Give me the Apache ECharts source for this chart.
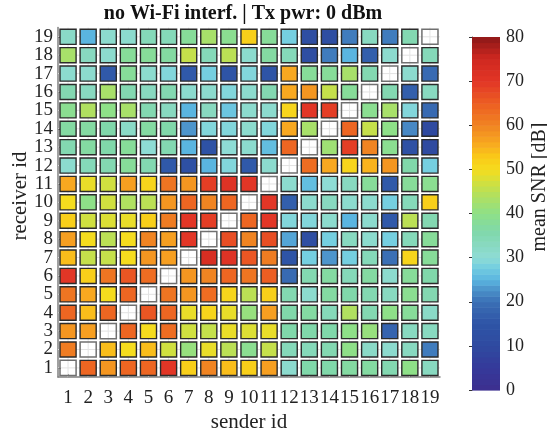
<!DOCTYPE html>
<html>
<head>
<meta charset="utf-8">
<script src="https://cdn.jsdelivr.net/npm/echarts@6/dist/echarts.min.js"></script>
<style>html,body{margin:0;padding:0;background:#fff;}#c{width:547px;height:438px;}</style>
</head>
<body>
<div id="c"></div>
<script>
// sender ids (x) and receiver ids (y)
const senders = ['1','2','3','4','5','6','7','8','9','10','11','12','13','14','15','16','17','18','19'];
const receivers = ['1','2','3','4','5','6','7','8','9','10','11','12','13','14','15','16','17','18','19'];
// mean SNR [dB] per receiver row, columns = sender 1..19 (null = diagonal, no data)
const rx1  = [null,64,58,64,64,70,52,60,54,52,57,31,36,36,37,37,35,40,33];
const rx2  = [61,null,54,50,54,47,41,49,45,39,46,34,34,35,40,32,31,33,21];
const rx3  = [58,57,null,64,50,63,47,46,49,48,49,36,36,36,40,41,18,33,33];
const rx4  = [64,54,64,null,66,64,49,51,49,41,57,36,37,34,44,35,40,38,32];
const rx5  = [62,56,50,64,null,62,58,63,51,45,52,35,31,37,36,35,33,39,35];
const rx6  = [70,52,62,66,63,null,58,60,64,62,65,19,35,37,34,37,31,38,36];
const rx7  = [54,46,46,50,58,57,null,73,71,66,61,15,28,23,28,34,20,51,38];
const rx8  = [57,50,45,50,60,57,70,null,67,60,67,24,12,28,33,31,28,34,38];
const rx9  = [52,47,48,49,52,61,70,69,null,64,70,29,29,31,25,31,16,45,35];
const rx10 = [50,40,47,44,45,58,64,60,64,null,70,17,31,33,31,31,28,34,52];
const rx11 = [56,49,47,57,51,62,58,69,71,70,null,31,26,30,33,38,16,38,39];
const rx12 = [31,34,35,38,35,16,13,25,29,16,31,null,63,56,51,55,58,36,28];
const rx13 = [35,37,36,38,30,35,25,14,30,31,26,64,null,42,69,60,39,13,10];
const rx14 = [37,37,36,32,37,36,23,29,29,31,29,56,43,null,64,46,40,22,10];
const rx15 = [39,44,40,43,35,33,25,33,27,31,31,51,70,69,null,39,43,29,19];
const rx16 = [35,33,43,35,33,35,31,31,29,31,35,56,58,46,38,null,35,17,33];
const rx17 = [31,31,16,38,31,29,16,28,15,29,15,56,38,38,43,35,null,31,19];
const rx18 = [43,33,31,38,38,37,46,34,45,31,37,34,12,21,25,17,31,null,34];
const rx19 = [32,25,31,31,34,34,38,43,39,52,38,28,12,12,21,33,21,35,null];
// colorbar ticks
const cbMin = 0, cbMax = 80, cbStep = 10;
const colormap = ['#3d2f8f','#35399a','#2f4aa0','#2e54a6','#3a6fb5','#4d95cc','#5ab5e0','#75cfe0','#8edcd5','#88d9c0','#80d8aa','#8ee088','#b0e060','#d0e040','#f5dc1e','#fac818','#f8a820','#f08422','#ec5e22','#e23626','#d02820','#8c1818'];
const colorStops = [0,5,10,15,20,23,25,28,30,33,36,40,44,47,50,53,56,60,65,70,75,80];

const rows = [rx1,rx2,rx3,rx4,rx5,rx6,rx7,rx8,rx9,rx10,rx11,rx12,rx13,rx14,rx15,rx16,rx17,rx18,rx19];
const cells = [];
rows.forEach((row, r) => row.forEach((v, c) => cells.push([c, r, v == null ? '-' : v])));

function hex2rgb(h){return [parseInt(h.slice(1,3),16),parseInt(h.slice(3,5),16),parseInt(h.slice(5,7),16)];}
function colorOf(v){
  if (v <= colorStops[0]) return colormap[0];
  for (let i = 1; i < colorStops.length; i++) {
    if (v <= colorStops[i]) {
      const t = (v - colorStops[i-1])/(colorStops[i]-colorStops[i-1]);
      const a = hex2rgb(colormap[i-1]), b = hex2rgb(colormap[i]);
      return 'rgb(' + a.map((x,k)=>Math.round(x+(b[k]-x)*t)).join(',') + ')';
    }
  }
  return colormap[colormap.length-1];
}
// colorbar levels (64 discrete steps like the reference)
const nLev = 64;
const cbLevels = [];
for (let i = 0; i < nLev; i++) cbLevels.push([0, cbMin + i*(cbMax-cbMin)/nLev, cbMin + (i+1)*(cbMax-cbMin)/nLev]);

const serif = 'Liberation Serif, Times New Roman, serif';
const chart = echarts.init(document.getElementById('c'), null, {renderer:'canvas'});
chart.setOption({
  animation: false,
  backgroundColor: '#fff',
  title: {
    text: 'no Wi-Fi interf. | Tx pwr: 0 dBm',
    left: 238, top: -1, textAlign: 'center',
    textStyle: {fontFamily: serif, fontWeight: 'bold', fontSize: 20, color: '#111'}
  },
  graphic: [
    {type: 'text', x: 20, y: 196, rotation: Math.PI/2,
     style: {text: 'receiver id', font: '21px ' + serif, fill: '#222', align: 'center', verticalAlign: 'middle', textAlign: 'center', textVerticalAlign: 'middle'}},
    {type: 'text', x: 540, y: 187, rotation: Math.PI/2,
     style: {text: 'mean SNR [dB]', font: '20px ' + serif, fill: '#222', align: 'center', verticalAlign: 'middle', textAlign: 'center', textVerticalAlign: 'middle'}}
  ],
  grid: [
    {left: 58, top: 27.6, width: 382, height: 355.8},
    {left: 472, top: 37, width: 28, height: 353}
  ],
  xAxis: [
    {type: 'category', data: senders, gridIndex: 0,
     name: 'sender id', nameLocation: 'middle', nameGap: 32,
     nameTextStyle: {fontFamily: serif, fontSize: 21, color: '#222'},
     axisLine: {show: true, lineStyle: {color: '#808080', width: 1.5}},
     axisTick: {show: true, alignWithLabel: true, inside: true, length: 3, lineStyle: {color: '#555'}},
     axisLabel: {fontFamily: serif, fontSize: 19, color: '#222', margin: 11, interval: 0},
     splitLine: {show: false}},
    {type: 'value', gridIndex: 1, min: 0, max: 1, show: false}
  ],
  yAxis: [
    {type: 'category', data: receivers, gridIndex: 0,
     axisLine: {show: true, lineStyle: {color: '#808080', width: 1.5}},
     axisTick: {show: true, alignWithLabel: true, inside: true, length: 3, lineStyle: {color: '#555'}},
     axisLabel: {fontFamily: serif, fontSize: 19, color: '#222', margin: 5, interval: 0},
     splitLine: {show: false}},
    {type: 'value', gridIndex: 1, position: 'right', min: cbMin, max: cbMax, interval: cbStep,
     axisLine: {show: true, lineStyle: {color: '#555', width: 1}},
     axisTick: {show: true, inside: true, length: 3, lineStyle: {color: '#333'}},
     axisLabel: {fontFamily: serif, fontSize: 18, color: '#222', margin: 6},
     splitLine: {show: false}}
  ],
  series: [
    {
      type: 'custom', xAxisIndex: 0, yAxisIndex: 0, data: cells,
      renderItem: function(params, api){
        const p = api.coord([api.value(0), api.value(1)]);
        const s = api.size([1, 1]);
        const v = api.value(2);
        const w = s[0]*0.8, h = s[1]*0.82;
        const children = [
          {type: 'line', shape: {x1: p[0]-s[0]/2, y1: p[1], x2: p[0]+s[0]/2, y2: p[1]}, style: {stroke: '#e3e3e3', lineWidth: 1}, z2: 0},
          {type: 'line', shape: {x1: p[0], y1: p[1]-s[1]/2, x2: p[0], y2: p[1]+s[1]/2}, style: {stroke: '#e3e3e3', lineWidth: 1}, z2: 0}
        ];
        const isNa = (v === '-' || v == null || isNaN(v));
        children.push({type: 'rect', shape: {x: p[0]-w/2, y: p[1]-h/2, width: w, height: h},
          style: isNa ? {fill: 'rgba(255,255,255,0)', stroke: '#707070', lineWidth: 1.5}
                      : {fill: colorOf(v), stroke: '#2b2b2b', lineWidth: 1.4}, z2: 1});
        return {type: 'group', children: children};
      }
    },
    {
      type: 'custom', xAxisIndex: 1, yAxisIndex: 1, data: cbLevels,
      renderItem: function(params, api){
        const a = api.coord([0, api.value(1)]);
        const b = api.coord([1, api.value(2)]);
        const mid = (api.value(1) + api.value(2))/2;
        return {type: 'rect', shape: {x: a[0], y: b[1], width: b[0]-a[0], height: a[1]-b[1] + 0.6},
          style: {fill: colorOf(mid)}};
      }
    }
  ]
});
</script>
</body>
</html>
